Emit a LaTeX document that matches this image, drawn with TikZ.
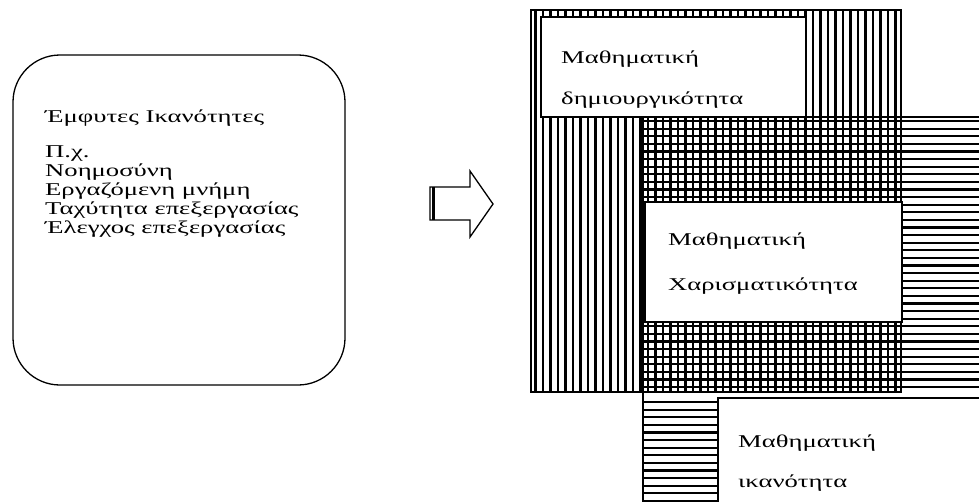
\documentclass[tikz,border=0pt]{standalone}
\usepackage{fontspec}
\setmainfont{Liberation Serif}[FakeStretch=1.48]
\begin{document}
\begin{tikzpicture}[x=1pt,y=-1pt,
    txt/.style={font=\fontsize{18}{19}\selectfont,anchor=base west,inner sep=0pt},
    box/.style={draw,line width=1.3pt,fill=white,inner sep=0pt},
    border/.style={draw,line width=1.3pt},
    vstripe/.style={line width=2.6pt},
    hstripe/.style={line width=2.2pt}]
  \useasboundingbox (0,0) rectangle (979,501);
  \clip (0,0) rectangle (979,501);

  % innate abilities
  \node[draw, line width=1.3pt, rounded corners=47pt, minimum width=332pt, minimum height=330pt] (innate) at (179,220) {};
  \node[txt] (t1) at (45,122) {Έμφυτες Ικανότητες};
  \node[txt] (t2) at (45,157) {Π.χ.};
  \node[txt] (t3) at (45,176) {Νοημοσύνη};
  \node[txt] (t4) at (45,195) {Εργαζόμενη μνήμη};
  \node[txt] (t5) at (45,214) {Ταχύτητα επεξεργασίας};
  \node[txt] (t6) at (45,233) {Έλεγχος επεξεργασίας};

  % block arrow
  \draw[line width=1.3pt] (430,187) -- (470,187) -- (470,171) -- (493,204) -- (470,237) -- (470,220) -- (430,220) -- cycle;
  \draw[line width=3pt] (433,187) -- (433,220);

  % striped areas
  \foreach \x in {535.5,543,...,898} \draw[vstripe] (\x,10) -- (\x,392);
  \foreach \y in {121,128.6,...,390} \draw[hstripe] (643,\y) -- (985,\y);
  \foreach \y in {402,409.6,...,501} \draw[hstripe] (643,\y) -- (720,\y);
  \draw[border] (531,10) rectangle (901,392);
  \draw[border] (643,117) rectangle (990,515);

  % boxes
  \node[box, minimum width=265pt, minimum height=100pt] (creat) at (673.5,67) {};
  \begin{scope}
    \clip (541,17) rectangle (806,117);
    \node[txt] (c1) at (561,63) {Μαθηματική};
    \node[txt] (c2) at (561,104) {δημιουργικότητα};
  \end{scope}
  \node[box, minimum width=257pt, minimum height=120pt] (gift) at (773.5,262) {};
  \node[txt] (g1) at (668,245) {Μαθηματική};
  \node[txt] (g2) at (668,290) {Χαρισματικότητα};
  \node[box, minimum width=272pt, minimum height=117pt] (abil) at (854,456.5) {};
  \node[txt] (a1) at (738,447) {Μαθηματική};
  \node[txt] (a2) at (738,487) {ικανότητα};
\end{tikzpicture}
\end{document}
